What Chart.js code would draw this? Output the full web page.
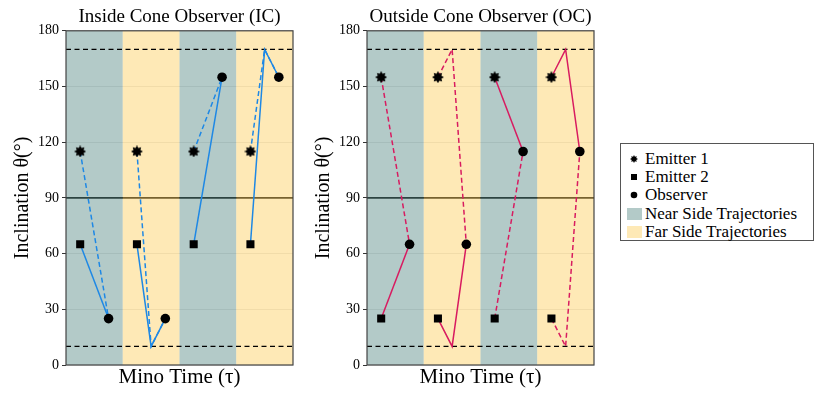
<!DOCTYPE html>
<html>
<head>
<meta charset="utf-8">
<script src="https://cdn.jsdelivr.net/npm/chart.js@4"></script>
<style>
  body { margin: 0; background: #fff; width: 830px; height: 399px; position: relative; overflow: hidden; }
  canvas { position: absolute; top: 0; }
  #legend {
    position: absolute; left: 620px; top: 143px; width: 192px; height: 96px;
    border: 1px solid #555; background: #fff;
    font-family: "Liberation Serif", serif; font-size: 17px; color: #000;
  }
  .row { position: absolute; left: 0; height: 18px; line-height: 18px; white-space: nowrap; }
  .row svg { position: absolute; top: 3px; }
  .row span { position: absolute; left: 24px; }
</style>
</head>
<body>
<canvas id="ic" width="300" height="399" style="left:0px"></canvas>
<canvas id="oc" width="300" height="399" style="left:301px"></canvas>
<div id="legend"></div>
<script>
// band layout along the Mino time axis
const bandSides = ["near", "far", "near", "far"];
const emitterX = [0.25, 1.25, 2.25, 3.25];
const observerX = [0.75, 1.75, 2.75, 3.75];
const turnX = [0.5, 1.5, 2.5, 3.5];
const yTicks = [0, 30, 60, 90, 120, 150, 180];
const lowerLimit = 10;
const upperLimit = 170;
const equator = 90;

// Inside Cone Observer
const icEmitter1 = [115, 115, 115, 115];
const icEmitter2 = [65, 65, 65, 65];
const icObserver = [25, 25, 155, 155];
const icTurn1 = [null, 10, null, 170];
const icTurn2 = [null, 10, null, 170];
const icSolid = [2, 2, 2, 2];

// Outside Cone Observer
const ocEmitter1 = [155, 155, 155, 155];
const ocEmitter2 = [25, 25, 25, 25];
const ocObserver = [65, 65, 115, 115];
const ocTurn1 = [null, 170, null, 170];
const ocTurn2 = [null, 10, null, 10];
const ocSolid = [2, 2, 1, 1];

const SERIF = '"Liberation Serif", serif';
const nearFill = "rgba(94,143,138,0.47)";
const farFill = "rgba(253,209,100,0.47)";

function makeStar(size) {
  const c = document.createElement("canvas");
  c.width = c.height = size;
  const g = c.getContext("2d");
  const r = size / 2, ri = r * 0.62;
  g.beginPath();
  for (let i = 0; i < 16; i++) {
    const a = Math.PI * i / 8 - Math.PI / 2;
    const rr = i % 2 ? ri : r;
    g.lineTo(r + rr * Math.cos(a), r + rr * Math.sin(a));
  }
  g.closePath();
  g.fillStyle = "#000";
  g.fill();
  return c;
}
const starImg = makeStar(12);

const bandsPlugin = {
  id: "bands",
  beforeDatasetsDraw(chart) {
    const { ctx, chartArea: a, scales } = chart;
    const y = scales.y, x = scales.x;
    ctx.save();
    ctx.strokeStyle = "#000";
    ctx.lineWidth = 1.8;
    ctx.beginPath();
    ctx.moveTo(a.left, y.getPixelForValue(equator));
    ctx.lineTo(a.right, y.getPixelForValue(equator));
    ctx.stroke();
    bandSides.forEach((side, i) => {
      const x0 = x.getPixelForValue(i), x1 = x.getPixelForValue(i + 1);
      ctx.fillStyle = side === "near" ? nearFill : farFill;
      ctx.fillRect(x0, a.top, x1 - x0, a.bottom - a.top);
    });
    ctx.restore();
  },
  afterDraw(chart) {
    const { ctx, chartArea: a } = chart;
    ctx.save();
    ctx.strokeStyle = "#444";
    ctx.lineWidth = 1.2;
    ctx.strokeRect(a.left, a.top, a.right - a.left, a.bottom - a.top);
    ctx.restore();
  }
};

function path(i, ey, turn, obs) {
  const p = [{ x: emitterX[i], y: ey }];
  if (turn !== null) p.push({ x: turnX[i], y: turn });
  p.push({ x: observerX[i], y: obs[i] });
  return p;
}

function buildDatasets(e1, e2, obs, turn1, turn2, solid, color) {
  const ds = [
    { label: "Emitter 1", data: emitterX.map((x, i) => ({ x, y: e1[i] })), pointStyle: starImg, pointRadius: 6 },
    { label: "Emitter 2", data: emitterX.map((x, i) => ({ x, y: e2[i] })), pointStyle: "rect", pointRadius: 5.7,
      backgroundColor: "#000", borderColor: "#000", borderWidth: 0 },
    { label: "Observer", data: observerX.map((x, i) => ({ x, y: obs[i] })), pointStyle: "circle", pointRadius: 4.8,
      backgroundColor: "#000", borderColor: "#000", borderWidth: 0 }
  ];
  for (let i = 0; i < 4; i++) {
    const p1 = path(i, e1[i], turn1[i], obs), p2 = path(i, e2[i], turn2[i], obs);
    const s = solid[i] === 1 ? p1 : p2, d = solid[i] === 1 ? p2 : p1;
    ds.push({ data: s, showLine: true, borderColor: color, borderWidth: 1.5, pointRadius: 0 });
    ds.push({ data: d, showLine: true, borderColor: color, borderWidth: 1.5, borderDash: [5, 3], pointRadius: 0 });
  }
  [lowerLimit, upperLimit].forEach(v => {
    ds.push({ data: [{ x: 0, y: v }, { x: 4, y: v }], showLine: true, borderColor: "#000",
      borderWidth: 1.3, borderDash: [5, 3.5], pointRadius: 0 });
  });
  return ds;
}

function makeChart(id, title, datasets) {
  return new Chart(document.getElementById(id), {
    type: "scatter",
    data: { datasets },
    plugins: [bandsPlugin],
    options: {
      responsive: false,
      animation: false,
      layout: { padding: { right: 4 } },
      plugins: {
        legend: { display: false },
        tooltip: { enabled: false },
        title: { display: true, text: title, color: "#000", fullSize: false,
          font: { family: SERIF, size: 19, weight: "normal" }, padding: { top: 6, bottom: 2 } }
      },
      scales: {
        x: {
          type: "linear", min: 0, max: 4,
          ticks: { display: false },
          grid: { display: false },
          border: { display: false },
          title: { display: true, text: "Mino Time (τ)", color: "#000",
            font: { family: SERIF, size: 21 }, padding: { top: 0, bottom: 9 } },
          afterFit: s => { s.height = 34; }
        },
        y: {
          min: 0, max: 180,
          afterBuildTicks: s => { s.ticks = yTicks.map(v => ({ value: v })); },
          ticks: { color: "#000", font: { family: SERIF, size: 14 }, padding: 3 },
          grid: { color: "rgba(0,0,0,0.1)", tickColor: "#333", tickLength: 4 },
          border: { display: false },
          title: { display: true, text: "Inclination θ(°)", color: "#000",
            font: { family: SERIF, size: 20 }, padding: { top: 11, bottom: 0 } },
          afterFit: s => { s.width = 66; }
        }
      }
    }
  });
}

makeChart("ic", "Inside Cone Observer (IC)",
  buildDatasets(icEmitter1, icEmitter2, icObserver, icTurn1, icTurn2, icSolid, "#1e88e5"));
makeChart("oc", "Outside Cone Observer (OC)",
  buildDatasets(ocEmitter1, ocEmitter2, ocObserver, ocTurn1, ocTurn2, ocSolid, "#d81b60"));

// legend
const legendItems = [
  { label: "Emitter 1", icon: "star", top: 6 },
  { label: "Emitter 2", icon: "square", top: 24 },
  { label: "Observer", icon: "circle", top: 42 },
  { label: "Near Side Trajectories", icon: "near", top: 61 },
  { label: "Far Side Trajectories", icon: "far", top: 79 }
];
function starPoints(cx, cy, r) {
  const pts = [];
  for (let i = 0; i < 16; i++) {
    const a = Math.PI * i / 8 - Math.PI / 2, rr = i % 2 ? r * 0.6 : r;
    pts.push((cx + rr * Math.cos(a)).toFixed(2) + "," + (cy + rr * Math.sin(a)).toFixed(2));
  }
  return pts.join(" ");
}
const legendEl = document.getElementById("legend");
legendItems.forEach(it => {
  let svg;
  if (it.icon === "star") svg = `<polygon points="${starPoints(13, 6, 4)}" fill="#000"/>`;
  else if (it.icon === "square") svg = `<rect x="10" y="3" width="6" height="6" fill="#000"/>`;
  else if (it.icon === "circle") svg = `<circle cx="13" cy="6" r="3.3" fill="#000"/>`;
  else svg = `<rect x="6" y="0" width="15" height="12" fill="${it.icon === "near" ? "#b3cac8" : "#fee9b6"}"/>`;
  legendEl.innerHTML += `<div class="row" style="top:${it.top}px"><svg width="22" height="12">${svg}</svg><span>${it.label}</span></div>`;
});
</script>
</body>
</html>
